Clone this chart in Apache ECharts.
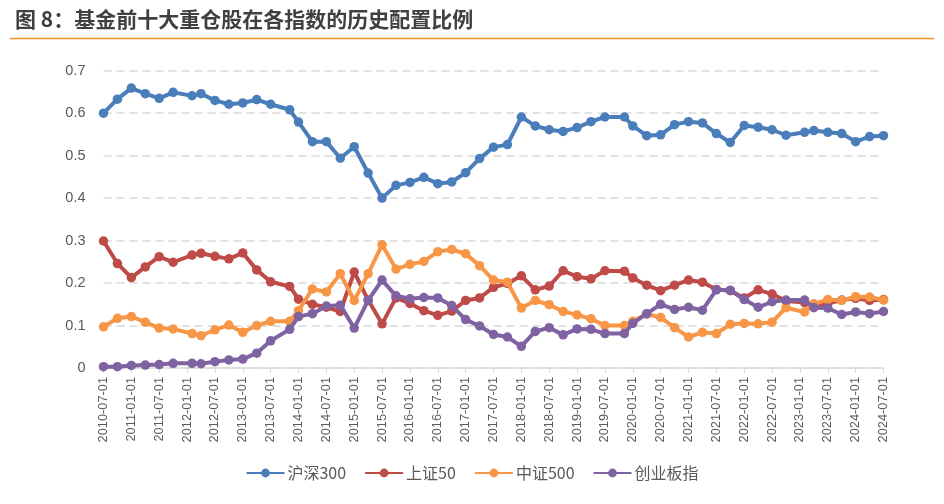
<!DOCTYPE html>
<html>
<head>
<meta charset="utf-8">
<script src="https://cdn.jsdelivr.net/npm/echarts@6/dist/echarts.min.js"></script>
<style>
html,body{margin:0;padding:0;background:#fff;}
#chart{width:944px;height:504px;}
</style>
</head>
<body>
<div id="chart"></div>
<script>
const titleText = '图 8：基金前十大重仓股在各指数的历史配置比例';
const seriesNames = ['沪深300', '上证50', '中证500', '创业板指'];
const dates = ['2010-07-01','2010-10-01','2011-01-01','2011-04-01','2011-07-01','2011-10-01','2012-02-03','2012-04-01',
  '2012-07-01','2012-10-01','2013-01-01','2013-04-01','2013-07-01','2013-11-04','2014-01-01','2014-04-01',
  '2014-07-01','2014-10-01','2015-01-01','2015-04-01','2015-07-01','2015-10-01','2016-01-01','2016-04-01',
  '2016-07-01','2016-10-01','2017-01-01','2017-04-01','2017-07-01','2017-10-01','2018-01-01','2018-04-01',
  '2018-07-01','2018-10-01','2019-01-01','2019-04-01','2019-07-01','2019-11-07','2020-01-01','2020-04-01',
  '2020-07-01','2020-10-01','2021-01-01','2021-04-01','2021-07-01','2021-10-01','2022-01-01','2022-04-01',
  '2022-07-01','2022-10-01','2023-02-01','2023-04-01','2023-07-01','2023-10-01','2024-01-01','2024-04-01',
  '2024-07-01'];
const xTickLabels = ['2010-07-01','2011-01-01','2011-07-01','2012-01-01','2012-07-01','2013-01-01','2013-07-01',
  '2014-01-01','2014-07-01','2015-01-01','2015-07-01','2016-01-01','2016-07-01','2017-01-01','2017-07-01',
  '2018-01-01','2018-07-01','2019-01-01','2019-07-01','2020-01-01','2020-07-01','2021-01-01','2021-07-01',
  '2022-01-01','2022-07-01','2023-01-01','2023-07-01','2024-01-01','2024-07-01'];
const yTickLabels = ['0','0.1','0.2','0.3','0.4','0.5','0.6','0.7'];

const hs300 = [0.600,0.633,0.659,0.646,0.635,0.649,0.641,0.646,0.630,0.621,0.624,0.632,0.621,0.608,0.579,0.533,
  0.533,0.494,0.521,0.459,0.400,0.430,0.437,0.449,0.434,0.438,0.460,0.493,0.520,0.526,0.591,0.570,
  0.561,0.557,0.566,0.580,0.591,0.591,0.570,0.547,0.549,0.573,0.580,0.577,0.552,0.531,0.571,0.567,
  0.561,0.548,0.555,0.559,0.555,0.552,0.533,0.545,0.547];
const sz50 = [0.299,0.246,0.213,0.238,0.262,0.249,0.266,0.270,0.263,0.257,0.271,0.231,0.203,0.192,0.162,0.150,
  0.143,0.133,0.226,0.160,0.104,0.165,0.152,0.135,0.124,0.134,0.159,0.165,0.190,0.199,0.217,0.184,
  0.193,0.229,0.215,0.210,0.229,0.228,0.212,0.195,0.182,0.195,0.207,0.202,0.185,0.182,0.165,0.184,
  0.174,0.158,0.154,0.148,0.152,0.160,0.164,0.159,0.161];
const zz500 = [0.097,0.117,0.121,0.108,0.094,0.092,0.081,0.076,0.090,0.101,0.084,0.100,0.110,0.110,0.135,0.186,
  0.179,0.222,0.159,0.222,0.290,0.233,0.244,0.251,0.274,0.279,0.269,0.241,0.207,0.202,0.141,0.159,
  0.149,0.133,0.125,0.116,0.100,0.100,0.110,0.127,0.119,0.095,0.073,0.084,0.081,0.103,0.105,0.104,
  0.108,0.142,0.132,0.151,0.161,0.159,0.168,0.167,0.160];
const cyb = [0.003,0.003,0.006,0.007,0.008,0.011,0.011,0.010,0.015,0.019,0.021,0.035,0.064,0.091,0.121,0.128,
  0.146,0.148,0.094,0.159,0.207,0.170,0.163,0.166,0.165,0.147,0.114,0.099,0.079,0.073,0.051,0.086,
  0.095,0.078,0.092,0.091,0.081,0.081,0.105,0.128,0.150,0.138,0.143,0.136,0.184,0.183,0.161,0.143,
  0.156,0.160,0.160,0.142,0.141,0.126,0.132,0.128,0.133];

const colors = ['#4A7EBB', '#BE4B48', '#F79646', '#7F62A1'];

function monthOffset(d) {
  const p = d.split('-').map(Number);
  return (p[0] - 2010) * 12 + (p[1] - 7) + (p[2] - 1) / 30;
}
const xs = dates.map(monthOffset);
const allSeries = [hs300, sz50, zz500, cyb];

const chart = echarts.init(document.getElementById('chart'), null, {renderer: 'canvas'});
chart.setOption({
  animation: false,
  backgroundColor: '#ffffff',
  title: {
    text: titleText,
    left: 10, top: 4,
    textStyle: {fontFamily: 'Noto Sans CJK SC', fontSize: 21, fontWeight: 'bold', color: '#404040'}
  },
  graphic: [{
    type: 'line', shape: {x1: 10, y1: 38.5, x2: 934, y2: 38.5},
    style: {stroke: '#F0922B', lineWidth: 1.5}
  }],
  legend: {
    bottom: 18, left: 'center',
    itemWidth: 38, itemHeight: 11, itemGap: 18,
    textStyle: {fontFamily: 'Noto Sans CJK SC', fontSize: 16, color: '#595959', padding: [0, 0, 0, -2]},
    data: seriesNames
  },
  grid: {left: 103.5, right: 60.5, top: 70.7, bottom: 136, containLabel: false},
  xAxis: {
    type: 'value', min: 0, max: 168, interval: 6,
    axisLine: {show: true, lineStyle: {color: '#d9d9d9', width: 1.5}},
    axisTick: {show: true, length: 5, lineStyle: {color: '#d9d9d9'}},
    splitLine: {show: false},
    axisLabel: {
      rotate: 90, fontFamily: 'Liberation Sans', fontSize: 12.8, color: '#595959', margin: 9,
      formatter: function (v) { return xTickLabels[Math.round(v / 6)] || ''; }
    }
  },
  yAxis: {
    type: 'value', min: 0, max: 0.7, interval: 0.1,
    axisLine: {show: false}, axisTick: {show: false},
    splitLine: {show: true, lineStyle: {color: '#d9d9d9', type: [8, 5], width: 1.5}},
    axisLabel: {
      fontFamily: 'Liberation Sans', fontSize: 14.5, color: '#595959', margin: 18,
      formatter: function (v) { return yTickLabels[Math.round(v * 10)]; }
    }
  },
  series: allSeries.map(function (vals, k) {
    return {
      name: seriesNames[k], type: 'line',
      data: vals.map(function (v, i) { return [xs[i], v]; }),
      symbol: 'circle', symbolSize: 9.5, showSymbol: true,
      lineStyle: {color: colors[k], width: 4},
      itemStyle: {color: colors[k]},
      z: 2 + k
    };
  })
});
</script>
</body>
</html>
